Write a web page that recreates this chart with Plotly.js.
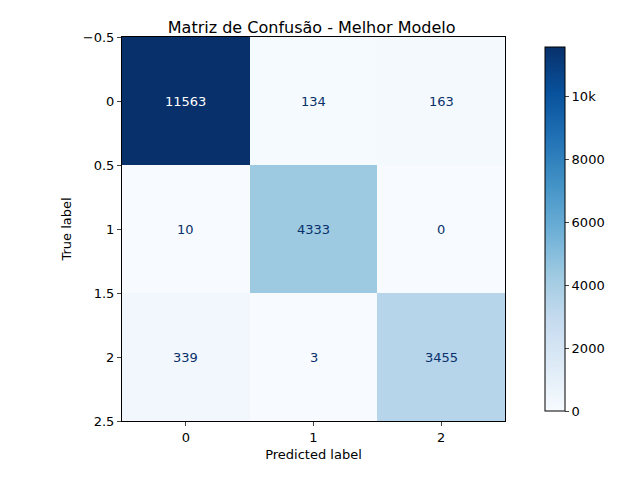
<!DOCTYPE html>
<html>
<head>
<meta charset="utf-8">
<script src="https://cdn.plot.ly/plotly-3.0.1.min.js"></script>
<style>body{margin:0}</style>
</head>
<body>
<div id="chart" style="width:640px;height:480px"></div>
<script>
// confusion matrix values -------------------------------------------------
let labels = ["0", "1", "2"];
let row0 = [11563, 134, 163];
let row1 = [10, 4333, 0];
let row2 = [339, 3, 3455];
let counts = [row0, row1, row2];

// matplotlib "Blues"
let blues = [
    [0.0, "#f7fbff"], [0.125, "#deebf7"], [0.25, "#c6dbef"], [0.375, "#9ecae1"],
    [0.5, "#6baed6"], [0.625, "#4292c6"], [0.75, "#2171b5"], [0.875, "#08519c"], [1.0, "#08306b"]
];

let maxVal = Math.max(...counts.flat());
let annotations = [];
counts.forEach((row, i) => {
    row.forEach((v, j) => {
        annotations.push({
            x: labels[j], y: labels[i], text: String(v), showarrow: false,
            font: { size: 13, color: v > maxVal / 2 ? "#ffffff" : "#08306b" }
        });
    });
});

var data = [{
    type: "heatmap", x: labels, y: labels, z: counts,
    colorscale: blues, zmin: 0, zmax: maxVal,
    colorbar: {
        x: 1.078, xanchor: "left", y: 0.5, len: 1, lenmode: "fraction",
        thickness: 20, outlinewidth: 1, outlinecolor: "black",
        tickvals: [0, 2000, 4000, 6000, 8000, 10000], ticks: "outside", ticklen: 4,
        tickfont: { size: 13 }
    },
    hoverinfo: "skip"
}];
var layout = {
    width: 640, height: 480,
    margin: { l: 122, r: 135, t: 37, b: 59 },
    paper_bgcolor: "white", plot_bgcolor: "white",
    font: { family: "DejaVu Sans", color: "black", size: 13 },
    title: { text: "Matriz de Confusão - Melhor Modelo", x: 0.487, xanchor: "center", y: 0.955, font: { size: 16 } },
    xaxis: {
        title: { text: "Predicted label", font: { size: 13 }, standoff: 6 },
        ticks: "outside", ticklen: 4, showline: true, mirror: true, linecolor: "black",
        showgrid: false, zeroline: false
    },
    yaxis: {
        title: { text: "True label", font: { size: 13 }, standoff: 8 },
        autorange: "reversed", ticks: "outside", ticklen: 4,
        showline: true, mirror: true, linecolor: "black", showgrid: false, zeroline: false
    },
    annotations: annotations
};
Plotly.newPlot("chart", data, layout, { displayModeBar: false });
</script>
</body>
</html>
